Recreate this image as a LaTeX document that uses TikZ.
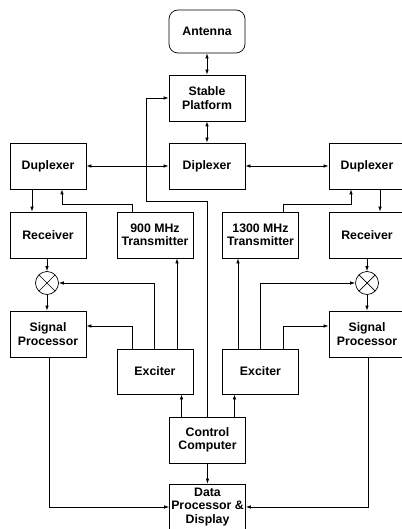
\documentclass[tikz,border=0pt]{standalone}
\usepackage{fontspec}
\setmainfont{Liberation Sans}
\usetikzlibrary{arrows.meta,calc}
\begin{document}
\begin{tikzpicture}[x=1pt,y=-1pt,
  box/.style={draw,line width=0.7pt,minimum width=76pt,minimum height=46pt,inner sep=0pt,align=center,font=\fontsize{12.3}{13.3}\selectfont\bfseries},
  mix/.style={draw,circle,line width=0.7pt,minimum size=23pt,inner sep=0pt,path picture={\draw[line width=0.7pt] (path picture bounding box.north west)--(path picture bounding box.south east) (path picture bounding box.north east)--(path picture bounding box.south west);}},
  conn/.style={line width=0.7pt,-{Latex[length=5pt,width=3.5pt]}},
  bi/.style={line width=0.7pt,{Latex[length=5pt,width=3.5pt]}-{Latex[length=5pt,width=3.5pt]}},
]
\useasboundingbox (0,0) rectangle (401,529);
\node[box,rounded corners=9pt,minimum height=43pt] (ant) at (207,31.5) {Antenna};
\node[box] (sp) at (207,98) {Stable\\Platform};
\node[box] (dip) at (207,166) {Diplexer};
\node[box] (dupl) at (48,166) {Duplexer};
\node[box] (dupr) at (367,166) {Duplexer};
\node[box] (recl) at (48,235) {Receiver};
\node[box] (txl) at (155,235) {900 MHz\\Transmitter};
\node[box] (txr) at (260.5,235) {1300 MHz\\Transmitter};
\node[box] (recr) at (367,235) {Receiver};
\node[mix] (mixl) at (47,283) {};
\node[mix] (mixr) at (367,283) {};
\node[box] (spl) at (48,334) {Signal\\Processor};
\node[box] (spr) at (367,334) {Signal\\Processor};
\node[box,minimum height=45pt] (excl) at (155,371.5) {Exciter};
\node[box,minimum height=45pt] (excr) at (260.5,371.5) {Exciter};
\node[box] (cc) at (207.5,440) {Control\\Computer};
\node[box] (dp) at (207.5,507) {Data\\Processor \&\\Display};
\coordinate (c1) at (207.5,201);
\coordinate (c2) at (146,201);
\draw[bi] (ant) -- (sp);
\draw[bi] (sp) -- (dip);
\draw[bi] (dupl) -- (dip);
\draw[bi] (dip) -- (dupr);
\draw[conn] (cc.north) -- (c1) -- (c2) |- (sp.west);
\draw[conn] ([xshift=-16pt]dupl.south) -- ([xshift=-16pt]recl.north);
\draw[conn] ([xshift=-23pt]txl.north) -- ++(0,-7) -| ([xshift=14pt]dupl.south);
\draw[conn] ([xshift=22.5pt]txr.north) -- ++(0,-7) -| ([xshift=-16pt]dupr.south);
\draw[conn] ([xshift=13pt]dupr.south) -- ([xshift=13pt]recr.north);
\draw[conn] (mixl |- recl.south) -- (mixl.north);
\draw[conn] (mixl.south) -- (mixl |- spl.north);
\draw[conn] (mixr |- recr.south) -- (mixr.north);
\draw[conn] (mixr.south) -- (mixr |- spr.north);
\draw[conn] ([xshift=-1pt]excl.north) |- (mixl.east);
\draw[conn] ([xshift=-23pt]excl.north) |- ([yshift=8pt]spl.east);
\draw[conn] ([xshift=22pt]excl.north) -- ([xshift=22pt]txl.south);
\draw[conn] ([xshift=-22.5pt]excr.north) -- ([xshift=-22.5pt]txr.south);
\draw[conn] (excr.north) |- (mixr.west);
\draw[conn] ([xshift=22.5pt]excr.north) |- ([yshift=8pt]spr.west);
\draw[conn] ([xshift=-26pt]cc.north) -- ([xshift=-26pt]cc.north |- excl.south);
\draw[conn] ([xshift=27pt]cc.north) -- ([xshift=27pt]cc.north |- excr.south);
\draw[conn] (cc) -- (dp);
\draw[conn] ([xshift=1pt]spl.south) |- (dp.west);
\draw[conn] ([xshift=1pt]spr.south) |- (dp.east);
\end{tikzpicture}
\end{document}
